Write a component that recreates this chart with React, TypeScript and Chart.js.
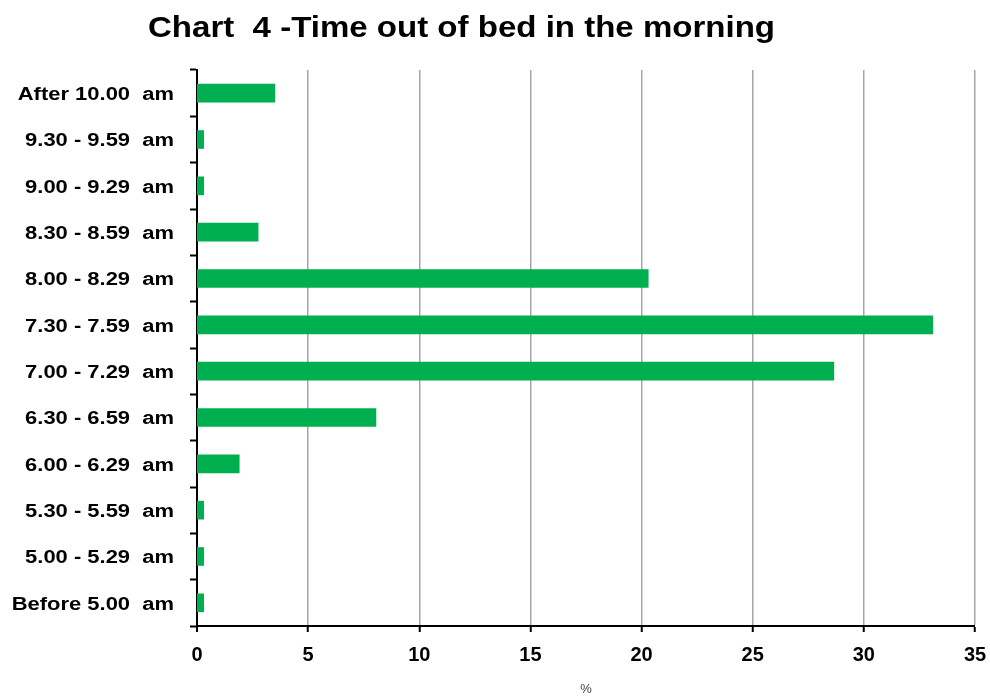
import React, { useEffect, useRef } from "react";
import { Chart, registerables } from "chart.js";

Chart.register(...registerables);

const TITLE = "Chart  4 -Time out of bed in the morning";
const CATEGORIES = [
  "After 10.00  am",
  "9.30 - 9.59  am",
  "9.00 - 9.29  am",
  "8.30 - 8.59  am",
  "8.00 - 8.29  am",
  "7.30 - 7.59  am",
  "7.00 - 7.29  am",
  "6.30 - 6.59  am",
  "6.00 - 6.29  am",
  "5.30 - 5.59  am",
  "5.00 - 5.29  am",
  "Before 5.00  am",
];
const VALUES = [3.5, 0.3, 0.3, 2.75, 20.3, 33.1, 28.65, 8.05, 1.9, 0.3, 0.3, 0.3];
const X_MIN = 0;
const X_MAX = 35;
const X_STEP = 5;
const X_TITLE = "%";

const FONT = "'Liberation Sans', Arial, sans-serif";

// Draws title and y-category labels with the slightly wide letterforms of the original
const textPlugin = {
  id: "wideText",
  afterDraw(chart: any) {
    const ctx = chart.ctx;
    ctx.save();
    // title
    ctx.font = `bold 30px ${FONT}`;
    ctx.fillStyle = "#000";
    ctx.textBaseline = "alphabetic";
    ctx.textAlign = "left";
    const tw = ctx.measureText(TITLE).width;
    const titleLeft = 148;
    const titleWidth = 627;
    const sx = titleWidth / tw;
    ctx.save();
    ctx.translate(titleLeft, 37);
    ctx.scale(sx, 1);
    ctx.fillText(TITLE, 0, 0);
    ctx.restore();

    // category labels
    const y = chart.scales.y;
    ctx.font = `bold 18px ${FONT}`;
    ctx.textAlign = "right";
    ctx.textBaseline = "middle";
    const lsx = 1.22;
    CATEGORIES.forEach((lab, i) => {
      const py = y.getPixelForTick(i) + 2;
      ctx.save();
      ctx.translate(174, py);
      ctx.scale(lsx, 1);
      ctx.fillText(lab, 0, 0);
      ctx.restore();
    });
    ctx.restore();
  },
};

export default function App() {
  const ref = useRef<HTMLCanvasElement | null>(null);
  useEffect(() => {
    if (!ref.current) return;
    const chart = new Chart(ref.current, {
      type: "bar",
      data: {
        labels: CATEGORIES,
        datasets: [
          {
            data: VALUES,
            backgroundColor: "#00b050",
            borderWidth: 0,
            barThickness: 18,
          },
        ],
      },
      plugins: [textPlugin],
      options: {
        indexAxis: "y",
        animation: false,
        responsive: false,
        maintainAspectRatio: false,
        layout: { padding: { top: 70, right: 15, bottom: 0, left: 0 } },
        plugins: {
          legend: { display: false },
          tooltip: { enabled: false },
          title: { display: false },
        },
        scales: {
          x: {
            type: "linear",
            min: X_MIN,
            max: X_MAX,
            ticks: {
              stepSize: X_STEP,
              color: "#000",
              padding: 11,
              font: { family: FONT, size: 20, weight: "bold" },
            },
            grid: {
              color: "#a6a6a6",
              lineWidth: (c: any) => (c.tick && c.tick.value === 0 ? 0 : 1.5),
              drawTicks: true,
              tickLength: 6,
              tickColor: "#000",
              tickWidth: 2,
            },
            border: { display: true, color: "#000", width: 2 },
            title: {
              display: true,
              text: X_TITLE,
              color: "#444",
              font: { family: FONT, size: 13 },
              padding: { top: 0, bottom: 1 },
            },
            afterFit: (scale: any) => {
              scale.height = 72;
              scale.paddingLeft = 0;
              scale.paddingRight = 0;
            },
          },
          y: {
            type: "category",
            ticks: {
              display: false,
            },
            grid: {
              drawOnChartArea: false,
              drawTicks: true,
              tickLength: 7,
              tickColor: "#000",
              tickWidth: 2,
              offset: true,
            },
            border: { display: true, color: "#000", width: 2 },
            afterFit: (scale: any) => {
              scale.width = 197;
              scale.paddingTop = 0;
              scale.paddingBottom = 0;
            },
          },
        },
      },
    } as any);
    return () => chart.destroy();
  }, []);
  return (
    <div style={{ position: "absolute", left: 0, top: 0, width: 990, height: 698, background: "#fff" }}>
      <canvas ref={ref} width={990} height={698} style={{ width: 990, height: 698 }} />
    </div>
  );
}
